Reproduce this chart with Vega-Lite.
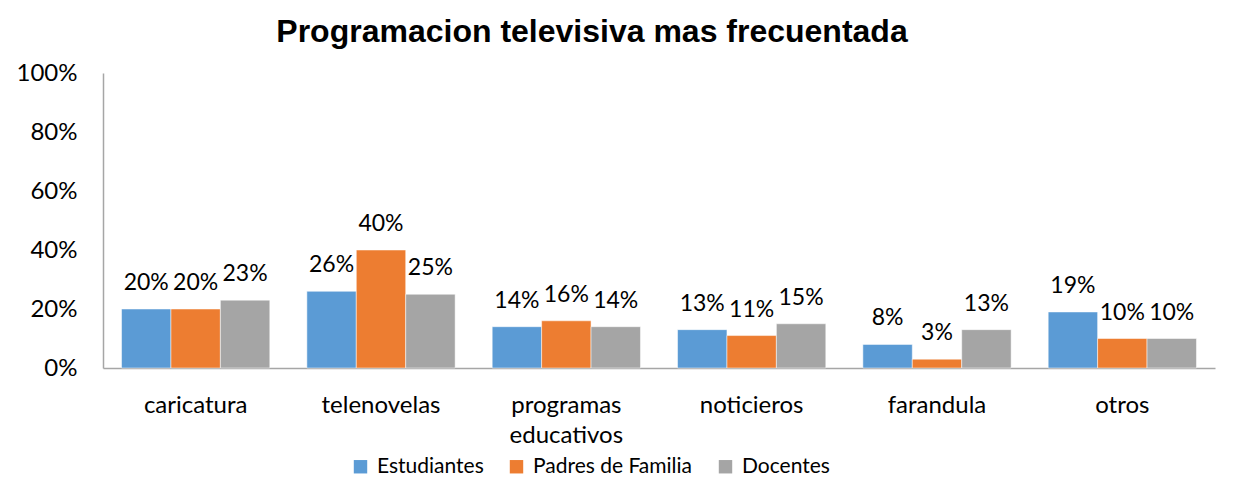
{
  "$schema": "https://vega.github.io/schema/vega-lite/v6.json",
  "width": 1112,
  "height": 295,
  "autosize": {"type": "none"},
  "padding": {"left": 103, "top": 73, "right": 31, "bottom": 135},
  "background": "white",
  "title": {
    "text": "Programacion televisiva mas frecuentada",
    "font": "Liberation Sans",
    "fontSize": 32,
    "fontWeight": "bold",
    "color": "black",
    "anchor": "middle",
    "frame": "group",
    "dx": -67,
    "offset": 12
  },
  "config": {
    "view": {"stroke": null},
    "font": "Lato",
    "axis": {"labelFont": "Lato", "labelFontSize": 24, "labelColor": "black", "grid": false, "ticks": false, "domainColor": "#A6A6A6", "domainWidth": 1.5},
    "legend": {"labelFont": "Lato", "labelFontSize": 21, "labelColor": "black", "labelLimit": 400}
  },
  "data": {
    "values": [
      {"cat": "caricatura", "grupo": "Estudiantes", "v": 0.20},
      {"cat": "caricatura", "grupo": "Padres de Familia", "v": 0.20},
      {"cat": "caricatura", "grupo": "Docentes", "v": 0.23},
      {"cat": "telenovelas", "grupo": "Estudiantes", "v": 0.26},
      {"cat": "telenovelas", "grupo": "Padres de Familia", "v": 0.40},
      {"cat": "telenovelas", "grupo": "Docentes", "v": 0.25},
      {"cat": "programas educativos", "grupo": "Estudiantes", "v": 0.14},
      {"cat": "programas educativos", "grupo": "Padres de Familia", "v": 0.16},
      {"cat": "programas educativos", "grupo": "Docentes", "v": 0.14},
      {"cat": "noticieros", "grupo": "Estudiantes", "v": 0.13},
      {"cat": "noticieros", "grupo": "Padres de Familia", "v": 0.11},
      {"cat": "noticieros", "grupo": "Docentes", "v": 0.15},
      {"cat": "farandula", "grupo": "Estudiantes", "v": 0.08},
      {"cat": "farandula", "grupo": "Padres de Familia", "v": 0.03},
      {"cat": "farandula", "grupo": "Docentes", "v": 0.13},
      {"cat": "otros", "grupo": "Estudiantes", "v": 0.19},
      {"cat": "otros", "grupo": "Padres de Familia", "v": 0.10},
      {"cat": "otros", "grupo": "Docentes", "v": 0.10}
    ]
  },
  "encoding": {
    "x": {
      "field": "cat", "type": "nominal", "sort": null, "title": null,
      "scale": {"paddingInner": 0.2, "paddingOuter": 0.1},
      "axis": {"labelAngle": 0, "labelPadding": 25, "labelBaseline": "top", "labelLineHeight": 30, "labelExpr": "split(datum.label, ' ')", "labelLimit": 300}
    },
    "xOffset": {"field": "grupo", "type": "nominal", "sort": ["Estudiantes", "Padres de Familia", "Docentes"]},
    "y": {
      "field": "v", "type": "quantitative", "title": null,
      "scale": {"domain": [0, 1]},
      "axis": {"values": [0, 0.2, 0.4, 0.6, 0.8, 1], "format": ".0%", "labelPadding": 26}
    }
  },
  "layer": [
    {
      "mark": {"type": "bar", "stroke": "white", "strokeWidth": 0.5},
      "encoding": {
        "color": {
          "field": "grupo", "type": "nominal", "sort": ["Estudiantes", "Padres de Familia", "Docentes"], "title": null,
          "scale": {"domain": ["Estudiantes", "Padres de Familia", "Docentes"], "range": ["#5B9BD5", "#ED7D31", "#A5A5A5"]},
          "legend": {"orient": "none", "direction": "horizontal", "legendX": 247, "legendY": 383, "symbolType": "square", "symbolSize": 180, "symbolStrokeWidth": 0, "columnPadding": 22, "labelOffset": 6}
        }
      }
    },
    {
      "mark": {"type": "text", "baseline": "alphabetic", "dy": -19, "fontSize": 23, "font": "Lato", "color": "black"},
      "encoding": {
        "text": {"field": "v", "type": "quantitative", "format": ".0%"}
      }
    }
  ]
}
